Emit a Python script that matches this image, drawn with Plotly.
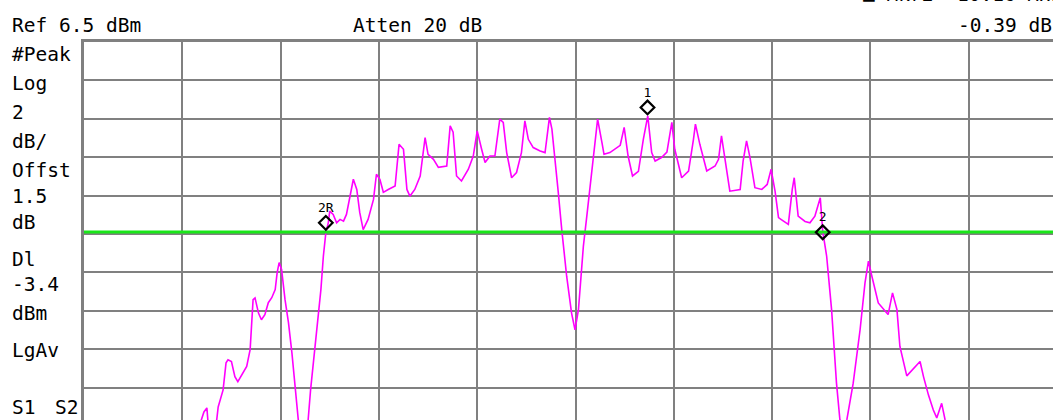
import plotly.graph_objects as go

# ---------------- data (frequency offset from centre in MHz, level in dBm) ----------------
freq_mhz = [-10.0, -8.6, -7.68, -7.56, -7.50, -7.48, -7.40, -7.30, -7.27, -7.17, -7.11, -7.07, -7.00,
            -6.93, -6.87, -6.79, -6.69, -6.62, -6.59, -6.56, -6.52, -6.45, -6.39, -6.32, -6.25, -6.18,
            -6.11, -6.07, -6.03, -5.98, -5.91, -5.84, -5.77, -5.71, -5.66, -5.64, -5.54, -5.44, -5.39,
            -5.32, -5.25, -5.18, -5.13, -5.08, -5.03, -5.00, -4.93, -4.86, -4.79, -4.72, -4.66, -4.60,
            -4.52, -4.45, -4.39, -4.32, -4.22, -4.11, -4.05, -3.98, -3.91, -3.81, -3.67, -3.59, -3.50,
            -3.43, -3.37, -3.27, -3.16, -3.06, -3.00, -2.89, -2.79, -2.62, -2.55, -2.49, -2.42, -2.32,
            -2.18, -2.08, -2.00, -1.91, -1.84, -1.74, -1.64, -1.54, -1.47, -1.40, -1.30, -1.20, -1.10,
            -1.03, -0.96, -0.86, -0.72, -0.62, -0.53, -0.48, -0.42, -0.35, -0.28, -0.18, -0.08, -0.01,
            0.06, 0.16, 0.23, 0.30, 0.38, 0.45, 0.54, 0.58, 0.70, 0.91, 0.99, 1.07, 1.16, 1.28, 1.38,
            1.47, 1.55, 1.62, 1.75, 1.86, 1.96, 2.02, 2.16, 2.30, 2.40, 2.44, 2.53, 2.67, 2.84, 2.91,
            2.97, 3.04, 3.14, 3.35, 3.41, 3.48, 3.55, 3.65, 3.79, 3.90, 3.98, 4.06, 4.13, 4.18, 4.33,
            4.41, 4.45, 4.53, 4.67, 4.77, 4.87, 4.98, 5.03, 5.11, 5.21, 5.31, 5.38, 5.44, 5.52, 5.65,
            5.79, 5.89, 5.96, 6.03, 6.16, 6.36, 6.45, 6.54, 6.60, 6.74, 7.01, 7.08, 7.18, 7.28, 7.35,
            7.45, 7.52, 7.62, 8.2, 9.72]
level_dbm = [-16.5, -15.5, -13.71, -12.77, -12.56, -13.19, -13.6, -13.19, -12.51, -11.62, -10.21, -10.05, -10.14,
             -10.93, -11.19, -10.84, -10.40, -9.53, -8.49, -6.92, -6.83, -7.62, -7.97, -7.70, -7.08, -6.82,
             -6.40, -5.51, -4.99, -5.35, -6.92, -8.12, -9.69, -11.46, -12.51, -13.19, -14.23, -13.19, -11.62,
             -9.88, -8.12, -6.40, -4.66, -3.44, -2.92, -2.31, -2.48, -2.92, -2.74, -2.83, -2.48, -1.70,
             -0.65, -1.18, -2.38, -3.27, -2.74, -1.70, -0.39, -0.65, -1.33, -1.18, -1.00, 1.17, 0.91,
             -1.18, -1.53, -1.18, -0.48, 1.52, 0.65, 0.39, -0.03, 0.04, 2.13, 1.80, -0.48, -0.74,
             -0.13, 0.56, 1.87, 0.91, 0.22, 0.56, 0.56, 2.48, 2.31, 0.74, -0.57, -0.30, 0.74,
             2.39, 1.43, 1.00, 0.82, 0.74, 2.57, 1.96, 0.56, -1.35, -3.27, -5.70, -7.62, -8.49,
             -7.44, -4.14, -2.57, -1.00, 0.91, 2.48, 1.23, 0.65, 0.74, 1.12, 2.05, 0.56, -0.48, -0.24, 1.43,
             2.65, 0.74, 0.30, 0.48, 0.76, 2.31, 0.91, -0.57, -0.22, 1.43, 2.22, 1.17, -0.22, 0.04, 0.39,
             1.61, 0.39, -1.27, -1.18, 0.30, 1.35, 0.48, -1.09, -1.18, -0.92, -0.13, -1.27, -2.65, -2.74, -3.00,
             -1.18, -0.57, -2.57, -2.85, -2.92, -2.57, -1.61, -3.37, -4.66, -7.44, -11.27, -13.19, -13.81, -13.19, -11.27,
             -8.49, -6.05, -4.92, -5.70, -7.09, -7.70, -6.57, -7.44, -9.36, -10.89, -10.14, -10.93, -11.88, -12.67, -13.08,
             -12.32, -13.19, -13.81, -15.0, -16.5]

marker_names = ["1", "2R", "2"]
marker_freq = [1.465, -5.08, 5.03]
marker_level = [3.09, -2.92, -3.41]

display_line_dbm = -3.4
ref_level_dbm = 6.5
db_per_div = 2
start_mhz = -10.0
mhz_per_div = 2
x_visible_end = 9.715
y_visible_bottom = -13.19

left_labels = ["#Peak", "Log", "2", "dB/", "Offst", "1.5", "dB", "Dl", "-3.4", "dBm", "LgAv"]

# ---------------- layout geometry (pixels) ----------------
W, H = 1053, 420
L, T = 84, 42
FONT = "DejaVu Sans Mono"
FS = 19.5


def pxx(x):
    return (x - L) / (W - L)


def pyy(y):
    return (H - y) / (H - T)


fig = go.Figure()

fig.add_trace(go.Scatter(
    x=freq_mhz, y=level_dbm, mode="lines",
    line=dict(color="#ff00ff", width=1.6), hoverinfo="skip", showlegend=False,
))

fig.add_trace(go.Scatter(
    x=[start_mhz, x_visible_end], y=[display_line_dbm, display_line_dbm], mode="lines",
    line=dict(color="#19e619", width=3), hoverinfo="skip", showlegend=False,
))

fig.add_trace(go.Scatter(
    x=marker_freq, y=marker_level, mode="markers+text",
    text=marker_names, textposition="top center",
    textfont=dict(family=FONT, size=13, color="black"),
    marker=dict(symbol="diamond-open", size=10.5, color="black", line=dict(width=2.2, color="black")),
    hoverinfo="skip", showlegend=False,
))

ann = []


def add_text(txt, x, y, anchor="left"):
    ann.append(dict(text=txt, x=pxx(x), y=pyy(y), xref="paper", yref="paper",
                    xanchor=anchor, yanchor="middle", showarrow=False,
                    font=dict(family=FONT, size=FS, color="black")))


add_text("Ref 6.5 dBm", 10, 25)
add_text("Atten 20 dB", 351, 25)
add_text("-0.39 dB", 956, 25)
add_text("■ Mkr2  10.16 MHz", 861, -6)

label_y = [54, 83, 112, 141, 170, 197, 222, 259, 284, 313, 350]
for t, yy in zip(left_labels, label_y):
    add_text(t, 10, yy)
add_text("S1", 10, 407)
add_text("S2", 53, 407)

fig.update_layout(
    width=W, height=H,
    margin=dict(l=L, r=0, t=T, b=0),
    paper_bgcolor="white", plot_bgcolor="white",
    annotations=ann,
    xaxis=dict(range=[start_mhz, x_visible_end], tick0=start_mhz, dtick=mhz_per_div,
               showgrid=True, gridcolor="#808080", gridwidth=2, zeroline=False,
               showticklabels=False, ticks="", side="top",
               showline=True, linecolor="#808080", linewidth=3, fixedrange=True),
    yaxis=dict(range=[y_visible_bottom, ref_level_dbm], tick0=ref_level_dbm, dtick=db_per_div,
               showgrid=True, gridcolor="#808080", gridwidth=2, zeroline=False,
               showticklabels=False, ticks="",
               showline=True, linecolor="#808080", linewidth=3, fixedrange=True),
)

fig.write_html("out.html", config={"displayModeBar": False})
